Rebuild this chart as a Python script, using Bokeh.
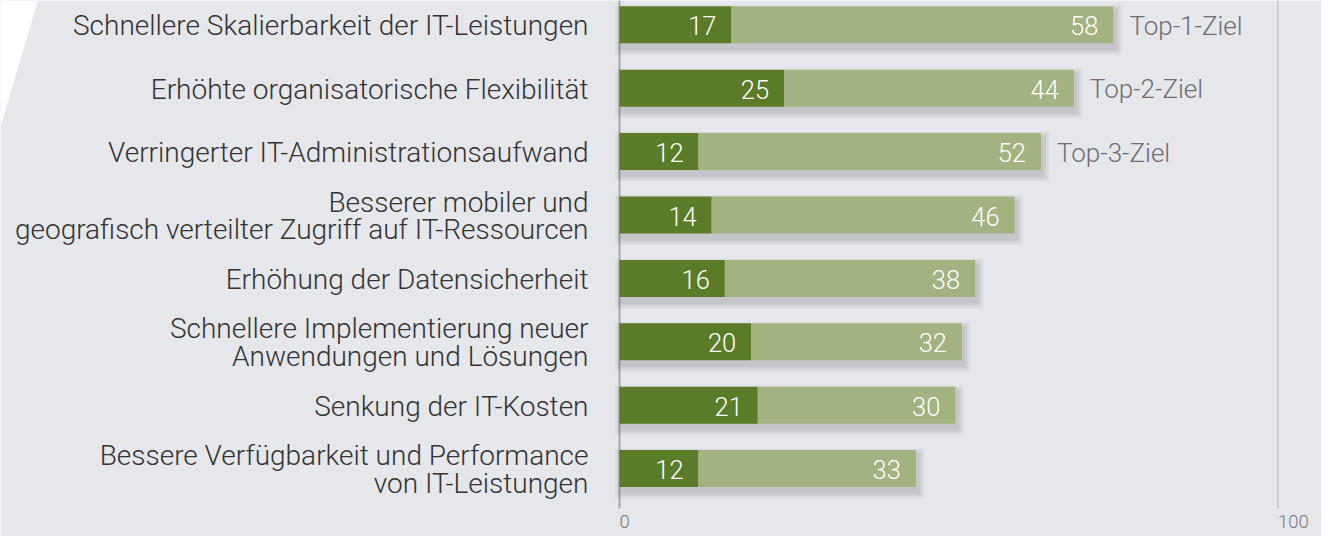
from bokeh.plotting import figure
from bokeh.models import Range1d, ColumnDataSource
from bokeh.core.properties import value
from bokeh.embed import file_html
from bokeh.resources import INLINE

# ---------------- data ----------------
categories = [
    "Schnellere Skalierbarkeit der IT-Leistungen",
    "Erhöhte organisatorische Flexibilität",
    "Verringerter IT-Administrationsaufwand",
    "Besserer mobiler und\ngeografisch verteilter Zugriff auf IT-Ressourcen",
    "Erhöhung der Datensicherheit",
    "Schnellere Implementierung neuer\nAnwendungen und Lösungen",
    "Senkung der IT-Kosten",
    "Bessere Verfügbarkeit und Performance\nvon IT-Leistungen",
]
top1_values = [17, 25, 12, 14, 16, 20, 21, 12]
top23_values = [58, 44, 52, 46, 38, 32, 30, 33]
goal_labels = ["Top-1-Ziel", "Top-2-Ziel", "Top-3-Ziel"]
tick_values = [0, 100]
tick_labels = ["0", "100"]

# ---------------- layout constants (figure pixels) ----------------
W, H = 1321, 536
X0_PX, X100_PX = 619.0, 1277.5        # pixel of value 0 and value 100
ROW0_PX, ROW_PITCH = 24.3, 63.4        # pixel of first row centre, row pitch
PXX = 100.0 / (X100_PX - X0_PX)
PXY = 1.0 / ROW_PITCH

x_start = -X0_PX * PXX
x_end = (W - X0_PX) * PXX
y_top = -ROW0_PX * PXY
y_bottom = (H - ROW0_PX) * PXY

BG = "#e6e7eb"
DARK = "#5a7b27"
LIGHT = "#a2b280"
BAR_H = 37 * PXY
FONT = value("Roboto Light")

p = figure(width=W, height=H, output_backend="svg", toolbar_location=None,
           x_range=Range1d(x_start, x_end), y_range=Range1d(y_bottom, y_top),
           min_border=0, min_border_left=0, min_border_right=0,
           min_border_top=0, min_border_bottom=0)
p.axis.visible = False
p.grid.visible = False
p.outline_line_color = None
p.background_fill_color = BG
p.border_fill_color = BG

n = len(categories)
rows = list(range(n))
ends = [a + b for a, b in zip(top1_values, top23_values)]

# white corner wedge
p.patch(x=[x_start, x_start + 37.5 * PXX, x_start], y=[y_top, y_top, y_top + 126 * PXY],
        fill_color="white", line_color=None)

# axis line and 100 gridline
line_bottom = (508 - ROW0_PX) * PXY
p.segment(x0=[tick_values[0]], y0=[y_top], x1=[tick_values[0]], y1=[line_bottom],
          line_color="#a9a9ad", line_width=2)
p.segment(x0=[tick_values[1]], y0=[y_top], x1=[tick_values[1]], y1=[line_bottom],
          line_color="#c6c6ca", line_width=1.5)

# soft shadows
for k in range(1, 8):
    p.quad(left=[0 + (2 - k) * PXX] * n,
           right=[e + (2 + k) * PXX for e in ends],
           top=[r - BAR_H / 2 + (5 - k) * PXY for r in rows],
           bottom=[r + BAR_H / 2 + (5 + k) * PXY for r in rows],
           fill_color="black", fill_alpha=0.018, line_color=None)

src = ColumnDataSource(dict(
    y=rows, cat=categories, t1=top1_values, t23=top23_values, end=ends,
    t1s=[str(v) for v in top1_values], t23s=[str(v) for v in top23_values],
    zero=[0] * n,
))

p.hbar(y="y", left="zero", right="t1", height=BAR_H, fill_color=DARK,
       line_color=None, source=src)
p.hbar(y="y", left="t1", right="end", height=BAR_H, fill_color=LIGHT,
       line_color=None, source=src)

# value labels
for xcol, tcol in (("t1", "t1s"), ("end", "t23s")):
    p.text(x=xcol, y="y", text=tcol, source=src, text_align="right",
           text_baseline="middle", x_offset=-15, y_offset=1, text_color="white",
           text_font=FONT, text_font_size="25.5px")

# category labels
p.text(x="zero", y="y", text="cat", source=src, text_align="right",
       text_baseline="middle", x_offset=-31, y_offset=1, text_color="#333333",
       text_font=FONT, text_font_size="28px", text_line_height=0.84)

# goal labels
p.text(x=ends[:len(goal_labels)], y=rows[:len(goal_labels)], text=goal_labels,
       text_align="left", text_baseline="middle", x_offset=16, y_offset=1,
       text_color="#6d6d72", text_font=FONT, text_font_size="26px")

# tick labels
tick_y = (521 - ROW0_PX) * PXY
p.text(x=tick_values, y=[tick_y] * len(tick_values), text=tick_labels,
       text_align="left", text_baseline="middle", x_offset=0,
       text_color="#7a7a7e", text_font=FONT, text_font_size="18.5px")

open("out.html", "w").write(file_html(p, INLINE))
